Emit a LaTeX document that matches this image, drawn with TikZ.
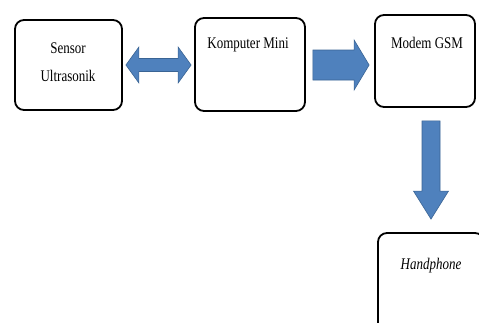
\documentclass[tikz,border=0pt]{standalone}
\usepackage{fontspec}
\setmainfont{Liberation Serif}
\usetikzlibrary{calc}
\definecolor{arrowfill}{HTML}{4F81BD}
\definecolor{arrowline}{HTML}{3A6494}
\begin{document}
\begin{tikzpicture}[x=1pt,y=-1pt,
  box/.style={draw=black,line width=1.8pt,rounded corners=9pt,fill=white,inner sep=0pt},
  lbl/.style={inner sep=0pt,font=\fontsize{13}{15}\selectfont,yscale=1.25},
  blockarrow/.style={fill=arrowfill,draw=arrowline,line width=0.6pt,line join=miter}]
\useasboundingbox (0,0) rectangle (479,322);
\clip (0,0) rectangle (479,322);
\fill[white] (0,0) rectangle (479,322);
% boxes
\node[box,minimum width=107pt,minimum height=90pt] (s) at (68.5,65) {};
\node[box,minimum width=110pt,minimum height=93pt] (k) at (250,64.5) {};
\node[box,minimum width=100pt,minimum height=92pt] (m) at (425,61) {};
\node[box,minimum width=106pt,minimum height=100pt] (h) at (431,283) {};
% labels
\node[lbl] (s1) at (68,48) {Sensor};
\node[lbl] (s2) at (68,76) {Ultrasonik};
\node[lbl] (k1) at (248,45) {Komputer Mini};
\node[lbl] (m1) at (427,43) {Modem GSM};
\node[lbl,font=\fontsize{13}{15}\selectfont\itshape] (h1) at (431,266) {Handphone};
% double arrow between s and k
\draw[blockarrow] let \p1=($(s.east)+(3,0)$), \p2=($(k.west)+(-3,0)$) in
  (\x1,65) -- (\x1+13pt,65-18) -- (\x1+13pt,65-6.5) -- (\x2-13pt,65-6.5) -- (\x2-13pt,65-18)
  -- (\x2,65) -- (\x2-13pt,65+18) -- (\x2-13pt,65+6.5) -- (\x1+13pt,65+6.5) -- (\x1+13pt,65+18) -- cycle;
% right arrow between k and m
\draw[blockarrow] let \p1=($(k.east)+(7,0)$), \p2=($(m.west)+(-5,0)$) in
  (\x1,65-15) -- (\x2-15pt,65-15) -- (\x2-15pt,65-25) -- (\x2,65) -- (\x2-15pt,65+25)
  -- (\x2-15pt,65+15) -- (\x1,65+15) -- cycle;
% down arrow between m and h
\draw[blockarrow] let \p1=($(m.south)+(0,13)$), \p2=($(h.north)+(0,-13)$) in
  (431-9,\y1) -- (431+9,\y1) -- (431+9,\y2+28pt) -- (431+17.5,\y2+28pt) -- (431,\y2)
  -- (431-17.5,\y2+28pt) -- (431-9,\y2+28pt) -- cycle;
\end{tikzpicture}
\end{document}
